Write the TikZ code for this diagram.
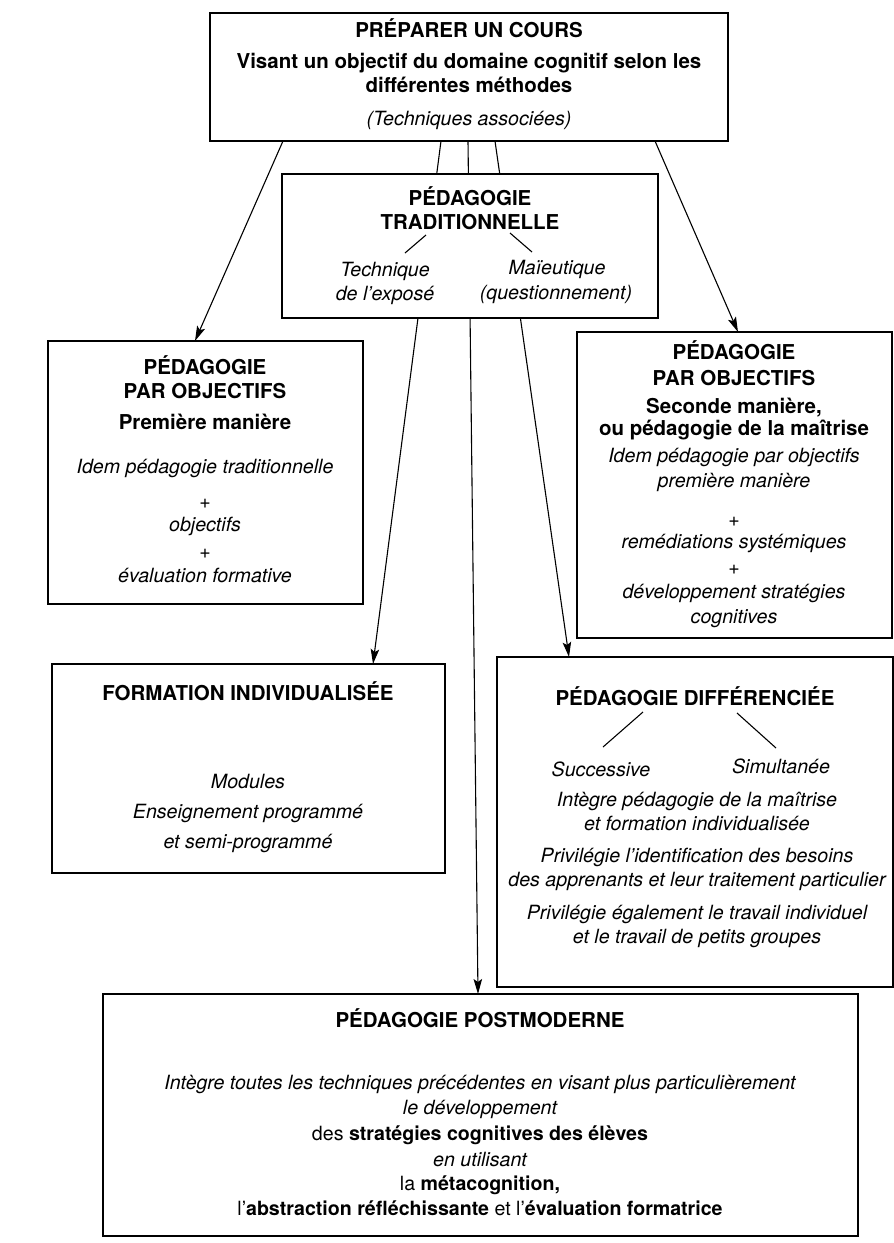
\documentclass[tikz,border=0pt]{standalone}
\usepackage{fontspec}
\setmainfont{TeX Gyre Heros}
\usetikzlibrary{arrows.meta}

\begin{document}
\begin{tikzpicture}[x=1pt,y=-1pt,
  box/.style={draw, line width=1.6pt, rectangle, inner sep=0pt, outer sep=0pt, anchor=north west},
  hd/.style={anchor=base, inner sep=0pt, font=\fontsize{20.5}{24}\selectfont\bfseries},
  it/.style={anchor=base, inner sep=0pt, font=\fontsize{19.6}{24}\selectfont\itshape},
  rm/.style={anchor=base, inner sep=0pt, font=\fontsize{19.6}{24}\selectfont},
  link/.style={line width=1.1pt},
  arr/.style={line width=1.1pt, -{Stealth[length=15pt,width=8.5pt,inset=3pt]}}]
\useasboundingbox (0,0) rectangle (894,1243);

% ---------- boxes ----------
\node[box, minimum width=518pt, minimum height=128pt] (top)  at (210,13)  {};
\node[box, minimum width=315pt, minimum height=263pt] (ppo1) at (48,341)  {};
\node[box, minimum width=315pt, minimum height=306pt] (ppo2) at (577,332) {};
\node[box, minimum width=393pt, minimum height=209pt] (fi)   at (52,664)  {};
\node[box, minimum width=396pt, minimum height=330pt] (pd)   at (497,657) {};
\node[box, minimum width=755pt, minimum height=242pt] (pm)   at (103,994) {};

% ---------- connectors ----------
\coordinate (s1) at ([xshift=73pt]top.south west);
\coordinate (s2) at ([xshift=231pt]top.south west);
\coordinate (s3) at ([xshift=258pt]top.south west);
\coordinate (s4) at ([xshift=285pt]top.south west);
\coordinate (s5) at ([xshift=445pt]top.south west);
\coordinate (e1) at ([xshift=147pt]ppo1.north west);
\coordinate (e2) at ([xshift=161pt]ppo2.north west);
\coordinate (e3) at ([xshift=321pt]fi.north west);
\coordinate (e4) at ([xshift=375pt]pm.north west);
\coordinate (e5) at ([xshift=72pt]pd.north west);

\draw[arr] (s1) -- (e1);
\draw[arr] (s5) -- (e2);
\draw[arr] (s2) -- (e3);
\draw[arr] (s3) -- (e4);
\draw[arr] (s4) -- (e5);

% the traditional-pedagogy box sits over the three central lines
\node[box, fill=white, minimum width=376pt, minimum height=144pt] (trad) at (282,174) {};

% ---------- texts ----------
% top box
\node[hd] (t1) at (469,37)  {PRÉPARER UN COURS};
\node[hd] (t2) at (469,68)  {Visant un objectif du domaine cognitif selon les};
\node[hd] (t3) at (469,92)  {différentes méthodes};
\node[it] (t4) at (469,125) {(Techniques associées)};

% traditional pedagogy
\node[hd] (r1) at (470,205) {PÉDAGOGIE};
\node[hd] (r2) at (470,229) {TRADITIONNELLE};
\node[it] (r3) at (385,276) {Technique};
\node[it] (r4) at (385,300) {de l’exposé};
\node[it] (r5) at (557,274) {Maïeutique};
\node[it] (r6) at (556,299) {(questionnement)};
\coordinate (rA) at (426,235);
\coordinate (rB) at (405,253);
\coordinate (rC) at (510,233);
\coordinate (rD) at (532,252);
\draw[link] (rA) -- (rB);
\draw[link] (rC) -- (rD);

% objectives, first way
\node[hd] (p1) at (205,374) {PÉDAGOGIE};
\node[hd] (p2) at (205,398) {PAR OBJECTIFS};
\node[hd] (p3) at (205,429) {Première manière};
\node[it] (p4) at (205,473) {Idem pédagogie traditionnelle};
\node[it] (p5) at (205,508) {+};
\node[it] (p6) at (205,531) {objectifs};
\node[it] (p7) at (205,558) {+};
\node[it] (p8) at (205,582) {évaluation formative};

% objectives, second way
\node[hd] (q1)  at (734,359) {PÉDAGOGIE};
\node[hd] (q2)  at (734,385) {PAR OBJECTIFS};
\node[hd] (q3)  at (734,413) {Seconde manière,};
\node[hd] (q4)  at (734,435) {ou pédagogie de la maîtrise};
\node[it] (q5)  at (734,462) {Idem pédagogie par objectifs};
\node[it] (q6)  at (734,487) {première manière};
\node[it] (q7)  at (734,526) {+};
\node[it] (q8)  at (734,548) {remédiations systémiques};
\node[it] (q9)  at (734,574) {+};
\node[it] (q10) at (734,598) {développement stratégies};
\node[it] (q11) at (734,623) {cognitives};

% individualised training
\node[hd] (f1) at (248,700) {FORMATION INDIVIDUALISÉE};
\node[it] (f2) at (248,788) {Modules};
\node[it] (f3) at (248,818) {Enseignement programmé};
\node[it] (f4) at (248,848) {et semi-programmé};

% differentiated pedagogy
\node[hd] (d1) at (695,705) {PÉDAGOGIE DIFFÉRENCIÉE};
\node[it] (d2) at (601,776) {Successive};
\node[it] (d3) at (781,773) {Simultanée};
\node[it] (d4) at (697,806) {Intègre pédagogie de la maîtrise};
\node[it] (d5) at (697,830) {et formation individualisée};
\node[it] (d6) at (697,862) {Privilégie l’identification des besoins};
\node[it] (d7) at (697,886) {des apprenants et leur traitement particulier};
\node[it] (d8) at (697,919) {Privilégie également le travail individuel};
\node[it] (d9) at (697,943) {et le travail de petits groupes};
\coordinate (dA) at (643,712);
\coordinate (dB) at (603,747);
\coordinate (dC) at (737,713);
\coordinate (dD) at (776,748);
\draw[link] (dA) -- (dB);
\draw[link] (dC) -- (dD);

% postmodern pedagogy
\node[hd] (m1) at (480,1027) {PÉDAGOGIE POSTMODERNE};
\node[it] (m2) at (480,1089) {Intègre toutes les techniques précédentes en visant plus particulièrement};
\node[it] (m3) at (480,1114) {le développement};
\node[rm] (m4) at (480,1140) {des \textbf{stratégies cognitives des élèves}};
\node[it] (m5) at (480,1166) {en utilisant};
\node[rm] (m6) at (480,1190) {la \textbf{métacognition,}};
\node[rm] (m7) at (480,1215) {l’\textbf{abstraction réfléchissante} et l’\textbf{évaluation formatrice}};
\end{tikzpicture}
\end{document}
